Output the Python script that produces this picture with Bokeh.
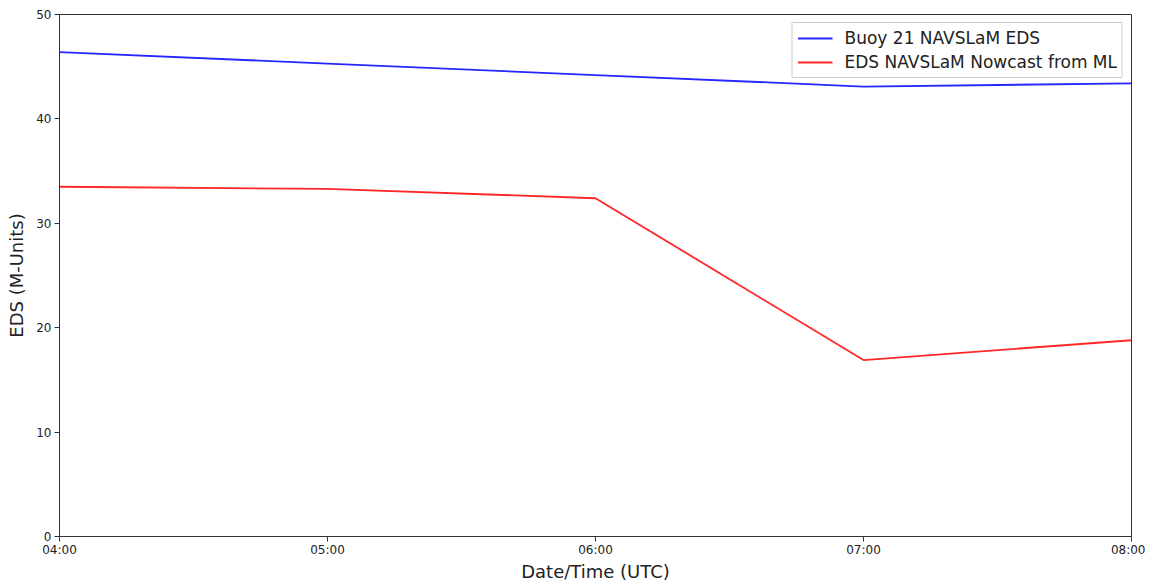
from datetime import datetime
from bokeh.plotting import figure
from bokeh.models import Range1d, DatetimeTickFormatter, FixedTicker, Legend, LegendItem
from bokeh.embed import file_html
from bokeh.resources import INLINE

times = ["04:00", "05:00", "06:00", "07:00", "08:00"]
buoy_eds = [46.4, 45.3, 44.2, 43.1, 43.4]
ml_nowcast = [33.5, 33.3, 32.4, 16.9, 18.8]
y_ticks = [0, 10, 20, 30, 40, 50]

x = [datetime(2021, 1, 1, int(t[:2]), int(t[3:])) for t in times]
ms = [(d - datetime(1970, 1, 1)).total_seconds() * 1000 for d in x]

FONT = "DejaVu Sans"

p = figure(width=1145, height=584, x_axis_type="datetime",
           output_backend="svg", toolbar_location=None,
           x_range=Range1d(ms[0], ms[-1]), y_range=Range1d(0, 50),
           min_border_left=59, min_border_right=14, min_border_top=14, min_border_bottom=5)

r1 = p.line(x, buoy_eds, line_color="#0000ff", line_width=1.8, line_alpha=0.85)
r2 = p.line(x, ml_nowcast, line_color="#ff0000", line_width=1.8, line_alpha=0.85)

legend = Legend(items=[LegendItem(label="Buoy 21 NAVSLaM EDS", renderers=[r1]),
                       LegendItem(label="EDS NAVSLaM Nowcast from ML", renderers=[r2])],
                location="top_right")
legend.label_text_font = FONT
legend.label_text_font_size = "17px"
legend.label_text_color = "#222222"
legend.border_line_color = "#cccccc"
legend.border_line_alpha = 1.0
legend.background_fill_alpha = 0.8
legend.glyph_width = 35
legend.glyph_height = 20
legend.label_height = 20
legend.spacing = 4
legend.padding = 5
legend.margin = 8
legend.label_standoff = 12
p.add_layout(legend)

p.grid.visible = False
p.outline_line_color = "#333333"
p.outline_line_alpha = 1.0

p.xaxis.ticker = FixedTicker(ticks=ms)
p.xaxis.formatter = DatetimeTickFormatter(hours="%H:%M", days="%H:%M", minutes="%H:%M")
p.yaxis.ticker = FixedTicker(ticks=y_ticks)

for ax in (p.xaxis[0], p.yaxis[0]):
    ax.axis_line_color = "#333333"
    ax.major_tick_line_color = "#333333"
    ax.major_tick_out = 5
    ax.major_tick_in = 0
    ax.minor_tick_out = 0
    ax.minor_tick_in = 0
    ax.major_label_text_font = FONT
    ax.major_label_text_font_size = "12px"
    ax.major_label_text_color = "#222222"
    ax.axis_label_text_font = FONT
    ax.axis_label_text_font_size = "18px"
    ax.axis_label_text_font_style = "normal"
    ax.axis_label_text_color = "#222222"

p.xaxis.axis_label = "Date/Time (UTC)"
p.yaxis.axis_label = "EDS (M-Units)"
p.xaxis.major_label_standoff = 1
p.yaxis.major_label_standoff = 3
p.xaxis.axis_label_standoff = 1
p.yaxis.axis_label_standoff = 6

open("out.html", "w").write(file_html(p, INLINE))
